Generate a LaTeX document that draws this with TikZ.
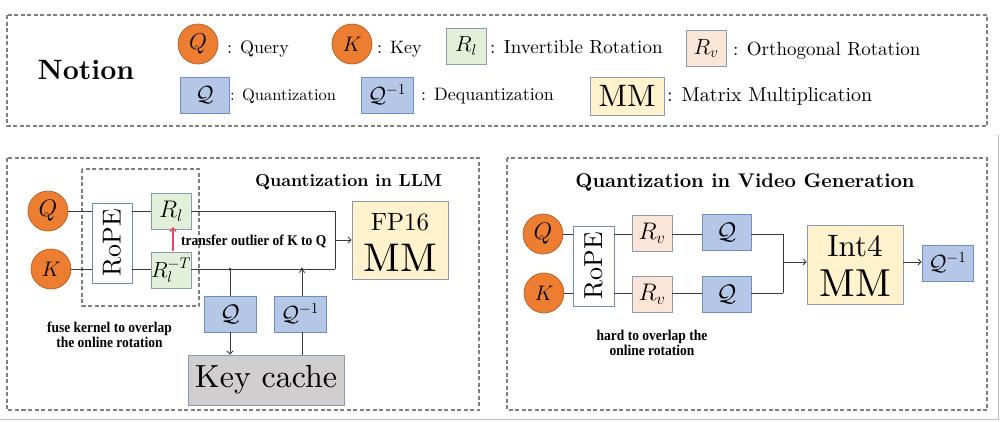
\RequirePackage{fix-cm}
\documentclass[tikz,border=0pt]{standalone}
\usepackage{fontspec}
\setmainfont{lmroman10-regular.otf}[BoldFont=lmroman10-bold.otf,ItalicFont=lmroman10-italic.otf,BoldItalicFont=lmroman10-bolditalic.otf]
\newfontfamily\tnr{Liberation Serif}
\usetikzlibrary{arrows.meta}
\newcommand\fsz[1]{\fontsize{#1}{#1}\selectfont}
\newcommand\cond[1]{\scalebox{0.9}[1]{#1}}
\definecolor{qorange}{HTML}{ED7D31}
\definecolor{qorangedk}{HTML}{B0602A}
\definecolor{grn}{HTML}{E2F0D9}
\definecolor{peach}{HTML}{FBE5D6}
\definecolor{qblue}{HTML}{B4C7E7}
\definecolor{qbluedk}{HTML}{6F8CC4}
\definecolor{mmyel}{HTML}{FFF2CC}
\definecolor{kgray}{HTML}{D0CECE}
\definecolor{bordr}{HTML}{8A9AB5}
\definecolor{dashg}{HTML}{7F7F7F}
\definecolor{wire}{HTML}{3A3A3A}
\definecolor{redarr}{HTML}{E8455E}
\tikzset{
  circ/.style={circle, fill=qorange, draw=qorangedk, line width=0.7pt, minimum size=40pt, inner sep=0pt},
  rbox/.style={draw=bordr, line width=0.9pt, inner sep=0pt},
  gbox/.style={rbox, fill=grn, minimum width=40pt, minimum height=36pt},
  pbox/.style={rbox, fill=peach, minimum width=40pt, minimum height=36pt},
  qbox/.style={rbox, draw=qbluedk, fill=qblue, minimum width=50pt, minimum height=36pt},
  mmbox/.style={rbox, fill=mmyel},
  ropebox/.style={rbox, draw=qbluedk, fill=white, minimum width=40pt, minimum height=80pt},
  frame/.style={draw=dashg, line width=1.2pt, dash pattern=on 4pt off 2.5pt},
  lbl/.style={anchor=base west, inner sep=0pt},
  wirel/.style={draw=wire, line width=0.8pt},
  arr/.style={wirel, -{Straight Barb[length=3pt,width=6pt]}},
  note/.style={inner sep=0pt, align=center, font=\tnr\bfseries\fsz{15}},
  dot/.style={circle, fill=wire, inner sep=0pt, minimum size=3pt},
}
\begin{document}
\begin{tikzpicture}[x=1pt,y=-1pt]
\useasboundingbox (0,0) rectangle (1000,421);
\fill[white] (0,0) rectangle (1000,421);
\draw[gray!50, line width=1pt] (0,419.5) -- (998.5,419.5) -- (998.5,135);

% ---------- Notion panel ----------
\draw[frame] (7,15) rectangle (987,126);
\node[inner sep=0pt] (notion) at (86,70) {\bfseries\fsz{28}Notion};
\node[circ] (lq) at (198,44) {\fsz{23}$Q$};
\node[lbl] (lqt) at (227,53) {\fsz{18}: Query};
\node[circ] (lk) at (352,44) {\fsz{21}$K$};
\node[lbl] (lkt) at (377,53) {\fsz{18}: Key};
\node[gbox] (lrl) at (466,46) {\fsz{22}$R_l$};
\node[lbl] (lrlt) at (490,53) {\fsz{19}: Invertible Rotation};
\node[pbox] (lrv) at (706,48.5) {\fsz{22}$R_v$};
\node[lbl] (lrvt) at (733,55) {\fsz{19}: Orthogonal Rotation};
\node[qbox, minimum width=49pt] (lqz) at (204.5,95) {\fsz{22}$\mathcal{Q}$};
\node[lbl] (lqzt) at (230,100) {\fsz{16.5}: Quantization};
\node[qbox, minimum width=52pt] (ldq) at (387,95) {\fsz{22}$\mathcal{Q}^{-1}$};
\node[lbl] (ldqt) at (421,100) {\fsz{18}: Dequantization};
\node[mmbox, minimum width=74pt, minimum height=38pt] (lmm) at (627,96) {\fsz{31}MM};
\node[lbl] (lmmt) at (667,101) {\fsz{20}: Matrix Multiplication};

% ---------- LLM panel ----------
\draw[frame] (7,158) rectangle (479,410);
\draw[frame] (82,169) rectangle (199,306);
\node[inner sep=0pt] (t1) at (348.5,182) {\bfseries\fsz{17.5}Quantization in LLM};
\node[circ] (qc) at (48,211) {\fsz{24}$Q$};
\node[circ] (kc) at (51,269) {\fsz{21}$K$};
\node[ropebox] (rope) at (112,243) {\rotatebox{90}{\fsz{26}RoPE}};
\node[gbox] (rl) at (171,211) {\fsz{24}$R_l$};
\node[gbox] (rlt) at (171,270) {\fsz{22}$R_l^{-T}$};
\node[mmbox, minimum width=96pt, minimum height=78pt] (fp) at (400,240) {};
\node[inner sep=0pt] (fpa) at (400,222) {\fsz{25}FP16};
\node[inner sep=0pt] (fpb) at (400,258) {\fsz{40}MM};
\coordinate (j) at (335,269);
\coordinate (m) at (335,240);
\coordinate (d1) at (230,269);
\coordinate (d2) at (302,269);
\node[qbox, minimum width=52pt] (qz) at (230,314) {\fsz{24}$\mathcal{Q}$};
\node[qbox, minimum width=52pt] (dq) at (300,314) {\fsz{22}$\mathcal{Q}^{-1}$};
\node[rbox, fill=kgray, minimum width=156pt, minimum height=50pt] (kcache) at (266,380) {\fsz{32}Key cache};
\path[wirel] (qc) -- (qc -| rope.west);
\path[wirel] (kc) -- (kc -| rope.west);
\path[wirel] (rope.east |- qc) -- (rl.west |- qc);
\path[wirel] (rope.east |- kc) -- (rlt.west |- kc);
\path[wirel] (rl.east |- qc) -| (j);
\path[wirel] (rlt.east |- kc) -- (j);
\path[arr] (m) -- (fp.west |- m);
\path[wirel] (d1) -- (qz.north -| d1);
\path[arr] (qz.south -| d1) -- (kcache.north -| d1);
\path[wirel] (kcache.north -| d2) -- (dq.south -| d2);
\path[arr] (dq.north -| d2) -- (d2);
\node[dot] (dd1) at (d1) {};
\node[dot] (dd2) at (d2) {};
\coordinate (ra) at (173,251);
\coordinate (rb) at (173,227);
\draw[redarr, line width=1.3pt, -{Straight Barb[length=3.5pt,width=6.5pt]}] (ra) -- (rb);
\node[note, anchor=west] (tr) at (181,241) {\cond{transfer outlier of K to Q}};
\node[note] (fuse) at (109.5,335) {\cond{fuse kernel to overlap}\\[-0.5pt]\cond{the online rotation}};

% ---------- Video panel ----------
\draw[frame] (507,158) rectangle (987,410);
\node[inner sep=0pt] (t2) at (745,183) {\bfseries\fsz{19.8}Quantization in Video Generation};
\node[circ] (qc2) at (543,234) {\fsz{24}$Q$};
\node[circ] (kc2) at (544,293) {\fsz{21}$K$};
\node[ropebox, minimum width=41pt] (rope2) at (593.5,266) {\rotatebox{90}{\fsz{26}RoPE}};
\node[pbox] (rv1) at (652,233) {\fsz{24}$R_v$};
\node[pbox] (rv2) at (652,294) {\fsz{24}$R_v$};
\node[qbox, minimum width=49pt] (qa) at (726.5,232) {\fsz{24}$\mathcal{Q}$};
\node[qbox, minimum width=49pt] (qb) at (726.5,294) {\fsz{24}$\mathcal{Q}$};
\node[mmbox, minimum width=96pt, minimum height=79pt] (im) at (855,264.5) {};
\node[inner sep=0pt] (ima) at (855,246) {\fsz{31}Int4};
\node[inner sep=0pt] (imb) at (855,283) {\fsz{39}MM};
\node[qbox, minimum width=51pt] (dq2) at (947.5,263) {\fsz{22}$\mathcal{Q}^{-1}$};
\coordinate (j2) at (783,293);
\coordinate (m2) at (783,262);
\path[wirel] (qc2) -- (qc2 -| rope2.west);
\path[wirel] (kc2) -- (kc2 -| rope2.west);
\path[wirel] (rope2.east |- qc2) -- (rv1.west |- qc2);
\path[wirel] (rope2.east |- kc2) -- (rv2.west |- kc2);
\path[wirel] (rv1.east |- qc2) -- (qa.west |- qc2);
\path[wirel] (rv2.east |- kc2) -- (qb.west |- kc2);
\path[wirel] (qa.east |- qc2) -| (j2);
\path[wirel] (qb.east |- kc2) -- (j2);
\path[arr] (m2) -- (im.west |- m2);
\path[arr] (im.east |- m2) -- (dq2.west |- m2);
\node[note] (hard) at (652,343) {\cond{hard to overlap the}\\[-0.5pt]\cond{online rotation}};
\end{tikzpicture}
\end{document}
